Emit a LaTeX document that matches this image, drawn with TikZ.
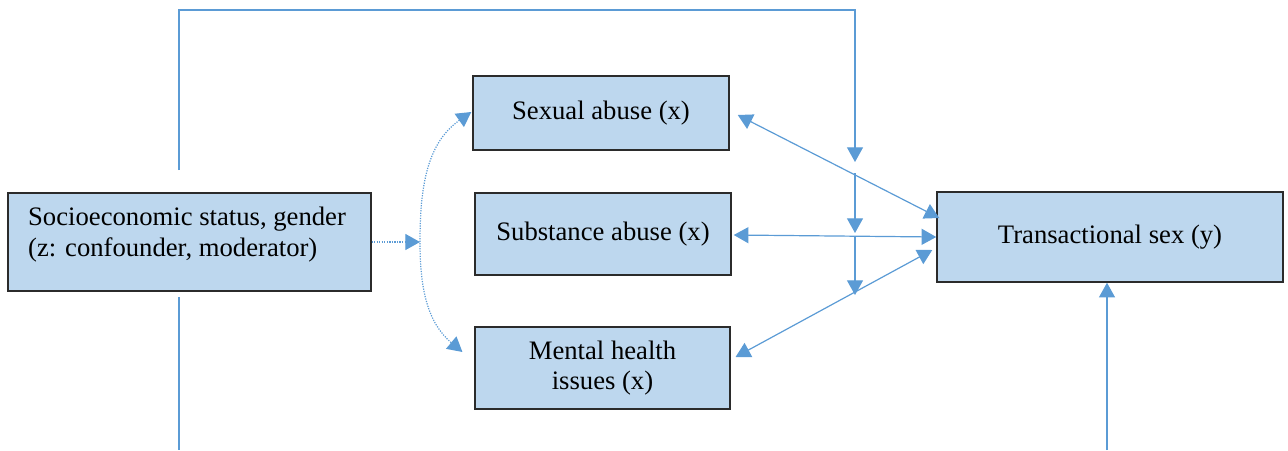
\documentclass[tikz,border=0pt]{standalone}
\usepackage{fontspec}
\setmainfont{Liberation Serif}
\usetikzlibrary{arrows.meta}
\definecolor{boxfill}{HTML}{BDD7EE}
\definecolor{boxline}{HTML}{2B2B2B}
\definecolor{arr}{HTML}{5B9BD5}
\begin{document}
\begin{tikzpicture}[x=0.75pt,y=-0.75pt,
  box/.style={draw=boxline, line width=1.1pt, fill=boxfill, inner sep=0pt, align=center,
    font=\fontsize{20pt}{23pt}\selectfont},
  conn/.style={draw=arr, line width=0.9pt},
  tip/.style={-{Triangle[length=11pt,width=12pt]}},
  dtip/.style={{Triangle[length=11pt,width=12pt]}-{Triangle[length=11pt,width=12pt]}},
  dots/.style={draw=arr, line width=0.9pt, densely dotted}
]
\useasboundingbox (0,0) rectangle (1288,450);

\node[box, minimum width=272pt, minimum height=73.5pt] (z) at (189.5,242)
  {\parbox[c][73.5pt][t]{242pt}{\raggedright\vspace*{10.5pt}Socioeconomic status, gender\\(z: confounder, moderator)}};
\node[box, minimum width=192pt, minimum height=55.5pt] (s) at (601,113) {Sexual abuse (x)};
\node[box, minimum width=192pt, minimum height=61.5pt] (sa) at (603,234) {Substance abuse (x)};
\node[box, minimum width=191pt, minimum height=61.5pt] (m) at (602.5,368) {Mental health\\issues (x)};
\node[box, minimum width=259.5pt, minimum height=67.5pt] (t) at (1110,237) {Transactional sex (y)};

% moderator line from top
\coordinate (a0) at (179,170);
\coordinate (a1) at (855,10);
\coordinate (a2) at (855,162);
\coordinate (a3) at (855,173);
\coordinate (a4) at (855,233);
\coordinate (a5) at (855,237);
\coordinate (a6) at (855,295);
\draw[conn, tip] (a0) |- (a1) -- (a2);
\draw[conn, tip] (a3) -- (a4);
\draw[conn, tip] (a5) -- (a6);

% bottom lines
\coordinate (b0) at (179,297);
\coordinate (b1) at (179,450);
\draw[conn] (b0) -- (b1);
\coordinate (c0) at (1107,450);
\draw[conn, tip] (c0) -- (c0 |- t.south);

% double arrows
\draw[conn, dtip] ([shift={(8,2)}]s.east) -- ([shift={(3,-19)}]t.west);
\draw[conn, dtip] ([shift={(2,1)}]sa.east) -- (t.west);
\draw[conn, dtip] ([shift={(5,-11)}]m.east) -- ([shift={(-4,13)}]t.west);

% dotted
\coordinate (d0) at (420,242);
\draw[dots, tip] (z.east) -- (d0);
\draw[dots, dtip] ([shift={(-1,-1)}]s.west) to[out=215,in=90] (d0) to[out=-90,in=140] ([shift={(-12,-16)}]m.west);
\end{tikzpicture}
\end{document}
